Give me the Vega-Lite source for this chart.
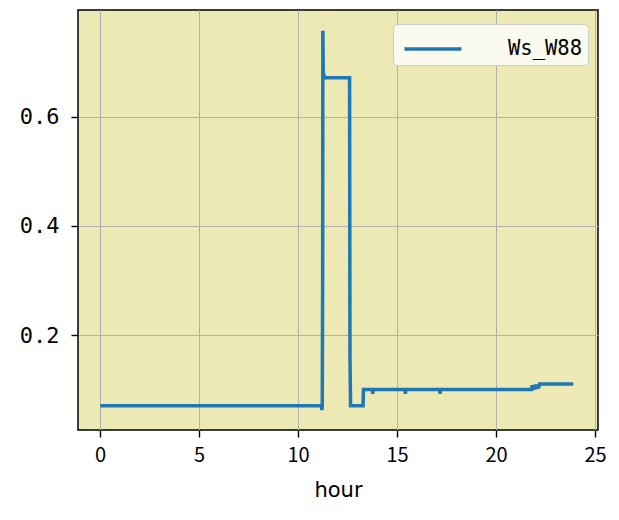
{
  "$schema": "https://vega.github.io/schema/vega-lite/v6.json",
  "autosize": "none",
  "width": 520,
  "height": 420,
  "padding": {"left": 78, "top": 10, "right": 21, "bottom": 90},
  "background": "white",
  "config": {
    "view": {"fill": "#ECE9B4", "stroke": "black", "strokeWidth": 1.5},
    "axis": {
      "grid": true,
      "gridColor": "#B0B0B0",
      "gridWidth": 1,
      "domain": false,
      "tickColor": "black",
      "tickSize": 7,
      "tickWidth": 1.4,
      "labelFont": "Noto Sans CJK JP",
      "labelFontSize": 20,
      "labelColor": "black",
      "titleFont": "DejaVu Sans",
      "titleFontSize": 21,
      "titleFontWeight": "normal",
      "titleColor": "black"
    }
  },
  "data": {
    "values": [
      {"hour": 0, "ws": 0.07, "series": "Ws_W88"},
      {"hour": 11.18, "ws": 0.07, "series": "Ws_W88"},
      {"hour": 11.2, "ws": 0.062, "series": "Ws_W88"},
      {"hour": 11.22, "ws": 0.07, "series": "Ws_W88"},
      {"hour": 11.24, "ws": 0.31, "series": "Ws_W88"},
      {"hour": 11.25, "ws": 0.758, "series": "Ws_W88"},
      {"hour": 11.27, "ws": 0.68, "series": "Ws_W88"},
      {"hour": 11.3, "ws": 0.678, "series": "Ws_W88"},
      {"hour": 11.32, "ws": 0.672, "series": "Ws_W88"},
      {"hour": 12.6, "ws": 0.672, "series": "Ws_W88"},
      {"hour": 12.62, "ws": 0.16, "series": "Ws_W88"},
      {"hour": 12.65, "ws": 0.07, "series": "Ws_W88"},
      {"hour": 13.28, "ws": 0.07, "series": "Ws_W88"},
      {"hour": 13.3, "ws": 0.1, "series": "Ws_W88"},
      {"hour": 13.75, "ws": 0.1, "series": "Ws_W88"},
      {"hour": 13.77, "ws": 0.092, "series": "Ws_W88"},
      {"hour": 13.79, "ws": 0.1, "series": "Ws_W88"},
      {"hour": 15.4, "ws": 0.1, "series": "Ws_W88"},
      {"hour": 15.42, "ws": 0.092, "series": "Ws_W88"},
      {"hour": 15.44, "ws": 0.1, "series": "Ws_W88"},
      {"hour": 17.15, "ws": 0.1, "series": "Ws_W88"},
      {"hour": 17.17, "ws": 0.092, "series": "Ws_W88"},
      {"hour": 17.19, "ws": 0.1, "series": "Ws_W88"},
      {"hour": 21.8, "ws": 0.1, "series": "Ws_W88"},
      {"hour": 21.82, "ws": 0.108, "series": "Ws_W88"},
      {"hour": 21.85, "ws": 0.1, "series": "Ws_W88"},
      {"hour": 21.9, "ws": 0.108, "series": "Ws_W88"},
      {"hour": 21.95, "ws": 0.1, "series": "Ws_W88"},
      {"hour": 22.0, "ws": 0.109, "series": "Ws_W88"},
      {"hour": 22.05, "ws": 0.101, "series": "Ws_W88"},
      {"hour": 22.1, "ws": 0.109, "series": "Ws_W88"},
      {"hour": 22.15, "ws": 0.102, "series": "Ws_W88"},
      {"hour": 22.2, "ws": 0.11, "series": "Ws_W88"},
      {"hour": 23.9, "ws": 0.11, "series": "Ws_W88"}
    ]
  },
  "mark": {"type": "line", "strokeWidth": 3.5, "clip": true},
  "encoding": {
    "x": {
      "field": "hour",
      "type": "quantitative",
      "title": "hour",
      "scale": {"domain": [-1.12, 25.15], "nice": false, "zero": false},
      "axis": {"values": [0, 5, 10, 15, 20, 25], "labelPadding": 8, "titlePadding": 14}
    },
    "y": {
      "field": "ws",
      "type": "quantitative",
      "title": null,
      "scale": {"domain": [0.0257, 0.7963], "nice": false, "zero": false},
      "axis": {"values": [0.2, 0.4, 0.6], "format": ".1f", "labelPadding": 12, "labelFont": "DejaVu Sans Mono", "labelFontSize": 22}
    },
    "color": {
      "field": "series",
      "type": "nominal",
      "scale": {"range": ["#1F77B4"]},
      "legend": {
        "title": null,
        "orient": "none",
        "legendX": 315,
        "legendY": 14,
        "symbolType": "M-1.6,0H1.6",
        "symbolSize": 1270,
        "symbolOffset": 15,
        "symbolStrokeWidth": 3.5,
        "symbolFillColor": "transparent",
        "labelFont": "DejaVu Sans Mono",
        "labelFontSize": 20.5,
        "labelColor": "black",
        "labelOffset": 55,
        "padding": 5,
        "fillColor": "#FBFAEE",
        "strokeColor": "#CCCCCC",
        "cornerRadius": 4
      }
    }
  }
}
